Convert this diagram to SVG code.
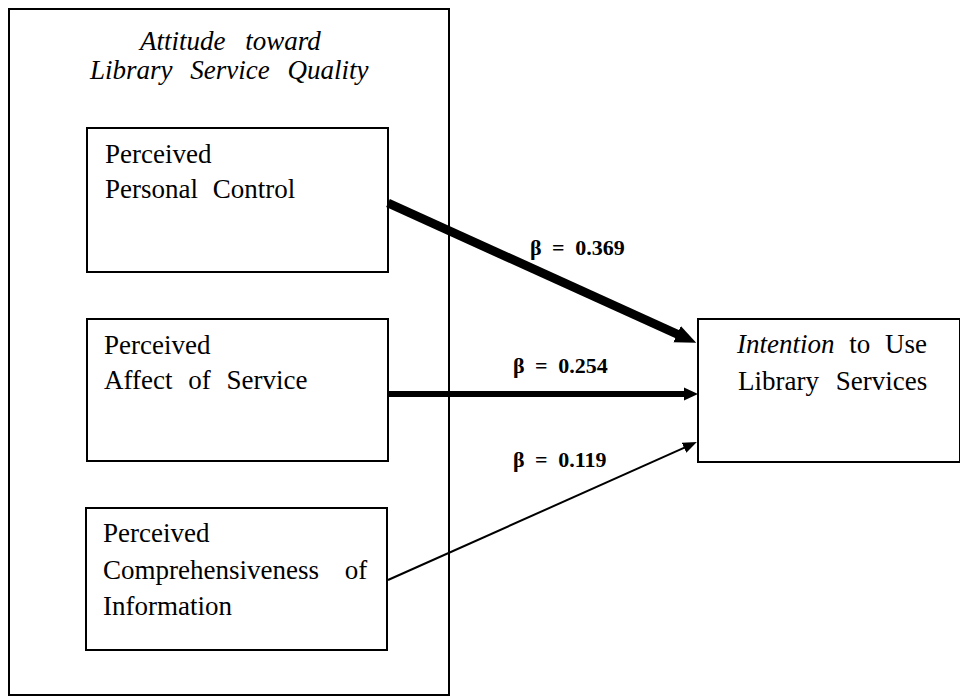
<svg xmlns="http://www.w3.org/2000/svg" width="960" height="697" viewBox="0 0 960 697">
<style>
.box{fill:#fff;stroke:#000;stroke-width:2}
.outer{fill:none;stroke:#000;stroke-width:2}
.t{font-family:"Liberation Serif","Times New Roman",serif;font-size:27px;fill:#000}
.i{font-style:italic}
.b{font-family:"Liberation Serif","Times New Roman",serif;font-size:22px;font-weight:bold;fill:#000;word-spacing:5px}
.c{stroke:#000;fill:none}
</style>
<defs>
<marker id="h1" markerUnits="userSpaceOnUse" viewBox="0 -10 21 20" markerWidth="21" markerHeight="20" refX="1" refY="0" orient="auto"><path d="M0,-9 L21,0 L0,9 z" fill="#000"/></marker>
<marker id="h2" markerUnits="userSpaceOnUse" viewBox="0 -7 14 14" markerWidth="14" markerHeight="14" refX="1" refY="0" orient="auto"><path d="M0,-6.5 L14,0 L0,6.5 z" fill="#000"/></marker>
<marker id="h3" markerUnits="userSpaceOnUse" viewBox="0 -6 14 12" markerWidth="14" markerHeight="12" refX="1" refY="0" orient="auto"><path d="M0,-5.5 L14,0 L0,5.5 z" fill="#000"/></marker>
</defs>
<rect width="960" height="697" fill="#fff"/>
<g id="attitude-group">
<rect class="outer" x="9" y="9" width="440" height="686"/>
<text class="t i" x="140" y="50" style="word-spacing:13px">Attitude toward</text>
<text class="t i" x="90" y="79" style="word-spacing:11px">Library Service Quality</text>
</g>
<g id="personal-control">
<rect class="box" x="87" y="128" width="301" height="144"/>
<text class="t" x="105" y="163">Perceived</text>
<text class="t" x="105" y="198" style="word-spacing:8px">Personal Control</text>
</g>
<g id="affect-of-service">
<rect class="box" x="87" y="319" width="301" height="142"/>
<text class="t" x="104" y="354">Perceived</text>
<text class="t" x="104" y="389" style="word-spacing:9px">Affect of Service</text>
</g>
<g id="comprehensiveness">
<rect class="box" x="86" y="508" width="301" height="142"/>
<text class="t" x="103" y="542">Perceived</text>
<text class="t" x="103" y="579" style="word-spacing:19px">Comprehensiveness of</text>
<text class="t" x="103" y="615">Information</text>
</g>
<g id="intention">
<rect class="box" x="698" y="319" width="262" height="143"/>
<text class="t" x="737" y="353" style="word-spacing:8px"><tspan class="i">Intention</tspan> to Use</text>
<text class="t" x="738" y="390" style="word-spacing:10px">Library Services</text>
</g>
<g id="connectors">
<line class="c" x1="388" y1="203" x2="678" y2="334.5" stroke-width="9" marker-end="url(#h1)"/>
<line class="c" x1="388" y1="394" x2="685" y2="394" stroke-width="6" marker-end="url(#h2)"/>
<line class="c" x1="388" y1="580" x2="685" y2="447.4" stroke-width="2" marker-end="url(#h3)"/>
<text class="b" x="530" y="255">β = 0.369</text>
<text class="b" x="513" y="373">β = 0.254</text>
<text class="b" x="513" y="467">β = 0.119</text>
</g>
</svg>
